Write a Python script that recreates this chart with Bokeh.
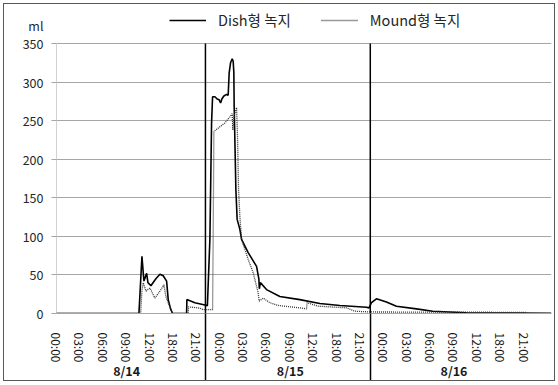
import math
from bokeh.plotting import figure
from bokeh.models import (Range1d, FixedTicker, LinearAxis, Legend, LegendItem)
from bokeh.embed import file_html
from bokeh.resources import INLINE

# ---- data (x = position on the category axis, one unit per tick label) ----
tick_labels = ["00:00", "03:00", "06:00", "09:00", "12:00", "18:00", "21:00"] * 3
day_labels = ["8/14", "8/15", "8/16"]
day_centers = [3, 10, 17]
day_breaks = [6.37, 13.42]
y_ticks = [0, 50, 100, 150, 200, 250, 300, 350]
y_max = 350
unit_label = "ml"

dish_x = [0, 3.526, 3.654, 3.739, 3.855, 3.910, 4.038, 4.25, 4.423, 4.564, 4.709,
          4.778, 4.880, 4.966, 5.564, 5.577, 5.919, 6.346, 6.453, 6.560, 6.632,
          6.675, 6.774, 6.872, 6.957, 7.017, 7.073, 7.158, 7.274, 7.342, 7.385,
          7.444, 7.513, 7.556, 7.585, 7.598, 7.628, 7.671, 7.726, 7.842, 7.915,
          8.197, 8.556, 8.654, 8.675, 8.718, 8.983, 9.551, 10.406, 11.261,
          12.115, 13.256, 13.368, 13.47, 13.684, 14.111, 14.538, 15.393, 16.09,
          17.53, 19.667, 21.16]
dish_y = [0, 0, 74, 42, 52, 40, 36, 45, 51, 49, 42,
          18, 6, 0, 0, 18, 14, 11, 10, 96, 247,
          281, 281, 278, 277, 273, 278, 282, 284, 283, 312,
          325, 330, 327, 312, 269, 226, 161, 122, 109, 96,
          79, 61, 45, 32, 40, 31, 22, 18, 13,
          10.4, 8.2, 7.3, 14, 19, 15, 9.5, 6, 3,
          1, 0.5, 0.3]

mound_x = [0, 3.598, 3.654, 3.709, 3.825, 3.996, 4.209, 4.423, 4.594, 4.679,
           4.850, 4.966, 5.632, 5.650, 6.132, 6.261, 6.675, 6.701, 6.731, 6.987,
           7.201, 7.415, 7.513, 7.543, 7.585, 7.701, 7.744, 7.786, 7.842, 7.915,
           8.197, 8.410, 8.624, 8.667, 8.838, 9.124, 9.479, 10.406, 10.692,
           10.718, 11.188, 12.402, 12.756, 13.397, 16.816, 20.094]
mound_y = [0, 0, 30, 40, 29, 33, 20, 29, 37, 22,
           8, 0, 0, 8.6, 7, 5, 5, 100, 236, 242,
           247, 255, 259, 238, 255, 267, 226, 161, 126, 96,
           70, 53, 27, 16, 20, 14, 10.4, 7.3, 6,
           14, 9.5, 7.3, 3, 2, 1.7, 1.5]

FONT = "Noto Sans CJK KR"
GRID = "#a6a6a6"
TOP = 400.56          # frame reaches the top of the canvas; 350 sits 39px below it
ML_POS = 373          # where the unit label sits on the value scale

p = figure(width=552, height=378, output_backend="svg", toolbar_location=None,
           x_range=Range1d(0, 21.17), y_range=Range1d(0, TOP),
           min_border_left=52, min_border_right=5, min_border_top=0,
           min_border_bottom=69, outline_line_color=None,
           styles={"border": "1px solid #595959", "margin-left": "3px",
                   "margin-top": "3px"})

# y axis: ticks drawn as minor ticks so the unit label gets no tick mark
ya = p.yaxis[0]
ya.ticker = FixedTicker(ticks=y_ticks + [ML_POS], minor_ticks=y_ticks)
ya.major_label_overrides = {ML_POS: unit_label}
ya.axis_line_color = None
ya.major_tick_line_color = None
ya.major_tick_in = 0
ya.major_tick_out = 5
ya.minor_tick_line_color = GRID
ya.minor_tick_in = 0
ya.minor_tick_out = 5
ya.major_label_standoff = 8
ya.major_label_text_font = FONT
ya.major_label_text_font_size = "12.5px"
ya.major_label_text_color = "#262626"
p.ygrid.ticker = FixedTicker(ticks=y_ticks)
p.ygrid.grid_line_color = GRID
p.xgrid.grid_line_color = None

# y axis line, only up to the top value
p.segment(x0=[0], y0=[0], x1=[0], y1=[y_max], line_color=GRID, line_width=1)

# x axis (time labels)
xa = p.xaxis[0]
xa.ticker = FixedTicker(ticks=list(range(len(tick_labels))))
xa.major_label_overrides = {i: t for i, t in enumerate(tick_labels)}
xa.major_label_orientation = -math.pi / 2
xa.axis_line_color = GRID
xa.major_tick_line_color = None
xa.minor_tick_line_color = None
xa.major_tick_in = 0
xa.major_tick_out = 0
xa.major_label_standoff = 19
xa.major_label_text_font = FONT
xa.major_label_text_font_size = "12px"
xa.major_label_text_color = "#1a1a1a"

# day axis; its minor ticks continue the day-break lines below the plot
da = LinearAxis(ticker=FixedTicker(ticks=day_centers, minor_ticks=day_breaks),
                major_label_overrides={c: d for c, d in zip(day_centers, day_labels)},
                axis_line_color=None, major_tick_line_color=None,
                major_tick_in=0, major_tick_out=0,
                minor_tick_line_color="black", minor_tick_line_width=1.5,
                minor_tick_in=52, minor_tick_out=26,
                major_label_standoff=-31,
                major_label_text_font=FONT, major_label_text_font_size="12.5px",
                major_label_text_font_style="bold", major_label_text_color="#1a1a1a")
p.add_layout(da, "below")

# day-break lines inside the plot
p.segment(x0=day_breaks, y0=[0] * len(day_breaks), x1=day_breaks,
          y1=[y_max] * len(day_breaks), line_color="black", line_width=1.5)

r1 = p.line(dish_x, dish_y, line_color="black", line_width=1.6)
r2 = p.line(mound_x, mound_y, line_color="#333333", line_width=1.3, line_dash="1 1")

legend = Legend(items=[LegendItem(label="Dish형 녹지", renderers=[r1]),
                       LegendItem(label="Mound형 녹지", renderers=[r2])],
                location=(113, 283), orientation="horizontal",
                glyph_width=37, glyph_height=16, label_standoff=12, spacing=30,
                padding=0, margin=0, border_line_color=None, background_fill_alpha=0,
                label_text_font=FONT, label_text_font_size="14.5px",
                label_text_color="#262626")
p.add_layout(legend)

open("out.html", "w").write(file_html(p, INLINE))
